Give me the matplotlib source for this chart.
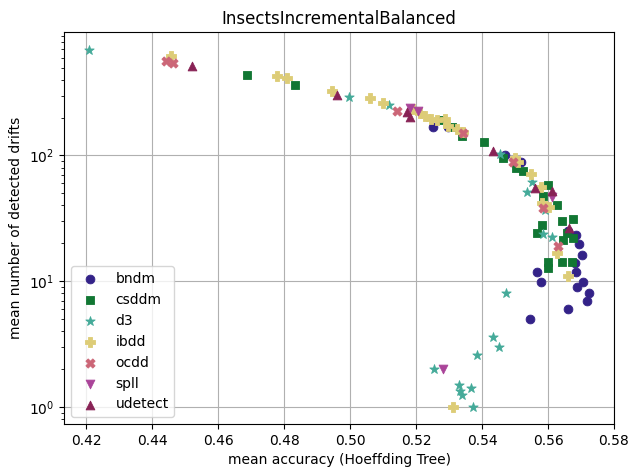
import matplotlib.pyplot as plt

# mean accuracy / mean number of detected drifts per detector run
bndm_acc = [0.5252, 0.5297, 0.547, 0.5518, 0.5661, 0.5685, 0.5694, 0.5703, 0.5682,
            0.5567, 0.5685, 0.5579, 0.5706, 0.5688, 0.5724, 0.5718, 0.5661, 0.5545]
bndm_drifts = [170, 167, 100, 88, 25, 23.5, 19.9, 16, 14,
               11.9, 11.9, 9.9, 9.9, 9.0, 8.1, 7.0, 6.0, 5.0]

csddm_acc = [0.4688, 0.4833, 0.5273, 0.5309, 0.5339, 0.5406, 0.5464, 0.5503, 0.5524,
             0.56, 0.5585, 0.5627, 0.5642, 0.5676, 0.5582, 0.5567, 0.5645, 0.5676,
             0.5658, 0.56, 0.56, 0.5642, 0.5673]
csddm_drifts = [434, 361, 190, 170, 142, 127, 95, 79, 75,
                58, 48, 40, 30, 31, 28, 24, 21.4, 22.2,
                24.3, 14.3, 12.8, 14.3, 14.3]

d3_acc = [0.4209, 0.4997, 0.5118, 0.5455, 0.5552, 0.5536, 0.5591, 0.5585, 0.5612,
          0.5473, 0.5433, 0.5452, 0.5385, 0.5255, 0.533, 0.5333, 0.5339, 0.5367, 0.5373]
d3_drifts = [687, 290, 250, 102, 61, 51, 36.5, 23.9, 22.6,
             8.1, 3.6, 3.0, 2.6, 2.0, 1.5, 1.34, 1.25, 1.42, 1.0]

ibdd_acc = [0.4458, 0.4779, 0.4809, 0.4945, 0.5061, 0.51, 0.5191, 0.5212, 0.5227,
            0.5245, 0.5264, 0.5288, 0.5297, 0.5324, 0.5342, 0.55, 0.5509, 0.5548,
            0.5579, 0.5582, 0.5603, 0.5627, 0.5661, 0.5312]
ibdd_drifts = [615, 426, 411, 324, 285, 260, 233, 216, 205,
               194, 190, 194, 173, 161, 155, 96, 88, 71,
               56, 42, 39, 16.9, 10.9, 1.0]

ocdd_acc = [0.4442, 0.4464, 0.5142, 0.5342, 0.5494, 0.5585, 0.563]
ocdd_drifts = [561, 541, 224, 152, 88, 38, 19.2]

spll_acc = [0.5182, 0.5206, 0.5612, 0.5282]
spll_drifts = [237, 224, 47, 2.0]

udetect_acc = [0.4521, 0.4961, 0.5173, 0.5182, 0.5433, 0.5561, 0.5612, 0.5664]
udetect_drifts = [512, 301, 220, 201, 108, 55, 52, 26.7]

SERIES = [
    ("bndm", bndm_acc, bndm_drifts, "#332288", "o", 40),
    ("csddm", csddm_acc, csddm_drifts, "#117733", "s", 36),
    ("d3", d3_acc, d3_drifts, "#44AA99", "*", 50),
    ("ibdd", ibdd_acc, ibdd_drifts, "#DDCC77", "P", 44),
    ("ocdd", ocdd_acc, ocdd_drifts, "#CC6677", "X", 44),
    ("spll", spll_acc, spll_drifts, "#AA4499", "v", 40),
    ("udetect", udetect_acc, udetect_drifts, "#882255", "^", 40),
]


def main():
    fig = plt.figure(figsize=(6.3, 4.71), dpi=100)
    ax = fig.add_axes([0.1016, 0.0998, 0.873, 0.8322])

    for label, acc, drifts, color, marker, size in SERIES:
        ax.scatter(acc, drifts, color=color, marker=marker, s=size,
                   edgecolors=color, linewidths=0.6, label=label, zorder=3)

    ax.set_yscale("log")
    ax.set_xlim(0.4133, 0.58)
    ax.set_ylim(0.73, 960)
    ax.set_xticks([0.42, 0.44, 0.46, 0.48, 0.50, 0.52, 0.54, 0.56, 0.58])
    ax.grid(True, which="major", color="#b0b0b0", linewidth=0.8, zorder=0)
    ax.set_axisbelow(True)

    ax.set_title("InsectsIncrementalBalanced")
    ax.set_xlabel("mean accuracy (Hoeffding Tree)")
    ax.set_ylabel("mean number of detected drifts")
    ax.legend(loc="lower left")

    fig.savefig("out.png", dpi=100)
    plt.close(fig)


if __name__ == "__main__":
    main()
